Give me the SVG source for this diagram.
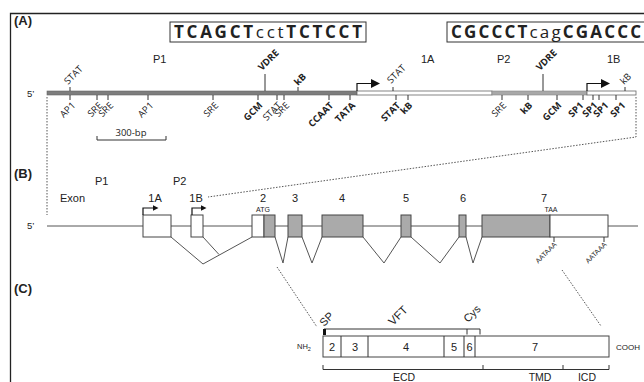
<svg xmlns="http://www.w3.org/2000/svg" width="644" height="382" viewBox="0 0 644 382">
<style>
text{fill:#222;font-family:"Liberation Sans",Arial,sans-serif}
.lb{font-family:"Open Sans","DejaVu Sans",sans-serif;font-size:9.5px}
.b{font-weight:bold}
.e{text-anchor:end}
.m{text-anchor:middle}
.ttl{font-size:13px;font-weight:bold}
.t11{font-size:11px}
.seq{font-family:"Open Sans","DejaVu Sans",sans-serif;font-size:17px}
.up{font-weight:bold}
.tk{stroke:#333;stroke-width:1;fill:none}
.ln{stroke:#555;stroke-width:1;fill:none}
.ex{stroke:#444;stroke-width:1;fill:#fff}
.exg{stroke:#444;stroke-width:1;fill:#aaa}
.dot{stroke:#555;stroke-width:1;stroke-dasharray:1.5 1.5;fill:none}
.arr{stroke:#111;stroke-width:1.2;fill:none}
</style>
<defs>
<marker id="ahA" markerUnits="userSpaceOnUse" markerWidth="10" markerHeight="9" refX="0" refY="4.5" orient="auto"><path d="M0,0 L9,4.5 L0,9 Z" fill="#111"/></marker>
<marker id="ahB" markerUnits="userSpaceOnUse" markerWidth="6" markerHeight="6" refX="0" refY="2.7" orient="auto"><path d="M0,0 L5.5,2.7 L0,5.4 Z" fill="#111"/></marker>
</defs>
<rect width="644" height="382" fill="#fff"/>
<g id="frame">
<path d="M10.5,382 V13.5 H644" stroke="#222" stroke-width="1.3" fill="none"/>
</g>

<g id="panelA">
<text class="ttl" x="14" y="25">(A)</text>
<g id="seq1">
<rect x="170" y="22" width="196" height="20" fill="none" stroke="#333" stroke-width="1"/>
<text class="seq" x="174" y="38" textLength="188" lengthAdjust="spacing"><tspan class="up">TCAGCT</tspan><tspan>cct</tspan><tspan class="up">TCTCCT</tspan></text>
</g>
<g id="seq2">
<rect x="447" y="22" width="212" height="20" fill="none" stroke="#333" stroke-width="1"/>
<text class="seq" x="451" y="38" textLength="190" lengthAdjust="spacing"><tspan class="up">CGCCCT</tspan><tspan>cag</tspan><tspan class="up">CGACCC</tspan></text>
</g>
<text class="t11" x="153" y="63">P1</text>
<text class="t11" x="421" y="63">1A</text>
<text class="t11" x="497" y="63">P2</text>
<text class="t11" x="607" y="63">1B</text>
<text x="27" y="97" font-size="9.5">5’</text>
<g id="promoter-line">
<rect x="47" y="91" width="310" height="4" fill="#7d7d7d" stroke="#666" stroke-width="0.6"/>
<rect x="357" y="91" width="135" height="4" fill="#fff" stroke="#666" stroke-width="0.8"/>
<rect x="492" y="91" width="95" height="4" fill="#a8a8a8" stroke="#888" stroke-width="0.6"/>
<rect x="587" y="91" width="49" height="4" fill="#fff" stroke="#666" stroke-width="0.8"/>
</g>
<g id="ticks-up">
<path class="tk" d="M70,87 V91 M265,74 V91 M298,87 V91 M393,87 V91 M543,74 V91 M625,87 V91"/>
<text class="lb" transform="translate(68,85) rotate(-45)">STAT</text>
<text class="lb b" transform="translate(262,71) rotate(-45)">VDRE</text>
<text class="lb b" transform="translate(298,86) rotate(-45)">kB</text>
<text class="lb" transform="translate(391,84) rotate(-45)">STAT</text>
<text class="lb b" transform="translate(540,71) rotate(-45)">VDRE</text>
<text class="lb" transform="translate(624,85) rotate(-45)">kB</text>
</g>
<g id="ticks-down">
<path class="tk" d="M70,95 V100 M97,95 V100 M108,95 V100 M148,95 V100 M213,95 V100 M258,95 V100 M277,95 V100 M284,95 V100 M329,95 V100 M350,95 V100 M396,95 V100 M408,95 V100 M502,95 V100 M528,95 V100 M557,95 V100 M583,95 V100 M593,95 V100 M599,95 V100 M616,95 V100"/>
<text class="lb e" transform="translate(76,106) rotate(-45)">AP1</text>
<text class="lb e" transform="translate(103,106) rotate(-45)">SRE</text>
<text class="lb e" transform="translate(114,106) rotate(-45)">SRE</text>
<text class="lb e" transform="translate(154,106) rotate(-45)">AP1</text>
<text class="lb e" transform="translate(219,106) rotate(-45)">SRE</text>
<text class="lb e b" transform="translate(263,106) rotate(-45)">GCM</text>
<text class="lb e" transform="translate(282,106) rotate(-45)">STAT</text>
<text class="lb e" transform="translate(290,106) rotate(-45)">SRE</text>
<text class="lb e b" transform="translate(334,106) rotate(-45)">CCAAT</text>
<text class="lb e b" transform="translate(356,106) rotate(-45)">TATA</text>
<text class="lb e b" transform="translate(401,106) rotate(-45)">STAT</text>
<text class="lb e b" transform="translate(413,106) rotate(-45)">kB</text>
<text class="lb e" transform="translate(507,106) rotate(-45)">SRE</text>
<text class="lb e b" transform="translate(533,106) rotate(-45)">kB</text>
<text class="lb e b" transform="translate(562,106) rotate(-45)">GCM</text>
<text class="lb e b" transform="translate(584,106) rotate(-45)">SP1</text>
<text class="lb e b" transform="translate(598,106) rotate(-45)">SP1</text>
<text class="lb e b" transform="translate(609,106) rotate(-45)">SP1</text>
<text class="lb e b" transform="translate(626,106) rotate(-45)">SP1</text>
</g>
<g id="tss-A">
<path class="arr" d="M357,91 V83.5 H371" marker-end="url(#ahA)"/>
<path class="arr" d="M587,91 V83.5 H601" marker-end="url(#ahA)"/>
</g>
<g id="scalebar">
<path class="tk" d="M97,136 V140 H166 V136"/>
<text class="lb m" x="131" y="136">300-bp</text>
</g>
</g>

<g id="connectors">
<path class="dot" d="M47,97 V215"/>
<path class="dot" d="M636,97 V137 L208,197"/>
<path class="dot" d="M277,267 L317,327"/>
<path class="dot" d="M562,270 L601,326"/>
</g>

<g id="panelB">
<text class="ttl" x="14" y="178">(B)</text>
<text class="t11" x="95" y="185">P1</text>
<text class="t11" x="173" y="185">P2</text>
<text class="t11" x="60" y="202">Exon</text>
<text class="t11 m" x="155" y="202">1A</text>
<text class="t11 m" x="196" y="202">1B</text>
<text class="t11 m" x="263" y="202">2</text>
<text x="263" y="212" font-size="7" class="m">ATG</text>
<text class="t11 m" x="295" y="202">3</text>
<text class="t11 m" x="342" y="202">4</text>
<text class="t11 m" x="406" y="202">5</text>
<text class="t11 m" x="463" y="202">6</text>
<text class="t11 m" x="544" y="202">7</text>
<text x="551" y="212" font-size="7" class="m">TAA</text>
<text x="27" y="229" font-size="9.5">5’</text>
<path class="ln" d="M47,226 H638"/>
<g id="exon1A"><rect class="ex" x="143" y="215" width="28" height="22"/></g>
<g id="exon1B"><rect class="ex" x="191" y="215" width="12" height="22"/></g>
<g id="exon2"><rect class="ex" x="252" y="215" width="12" height="22"/><rect class="exg" x="264" y="215" width="11" height="22"/></g>
<g id="exon3"><rect class="exg" x="288" y="215" width="14" height="22"/></g>
<g id="exon4"><rect class="exg" x="322" y="215" width="41" height="22"/></g>
<g id="exon5"><rect class="exg" x="401" y="215" width="10" height="22"/></g>
<g id="exon6"><rect class="exg" x="459" y="215" width="7" height="22"/></g>
<g id="exon7"><rect class="exg" x="482" y="215" width="68" height="22"/><rect class="ex" x="550" y="215" width="58" height="22"/></g>
<g id="tss-B">
<path class="arr" d="M143,215 V208 H153" marker-end="url(#ahB)"/>
<path class="arr" d="M192,215 V208 H201" marker-end="url(#ahB)"/>
</g>
<g id="splicing">
<path class="ln" d="M171,237 L203,264 L252,237 M203,237 L219,254.5"/>
<path class="ln" d="M275,237 L283,263 L288,237"/>
<path class="ln" d="M302,237 L312,263 L322,237"/>
<path class="ln" d="M363,237 L384,263 L401,237"/>
<path class="ln" d="M411,237 L440,263 L459,237"/>
<path class="ln" d="M466,237 L473,263 L482,237"/>
</g>
<g id="polyA">
<path class="tk" d="M554,237 V242 M604,237 V242"/>
<text class="e" font-size="7" transform="translate(557,245) rotate(-45)">AATAAA</text>
<text class="e" font-size="7" transform="translate(607,245) rotate(-45)">AATAAA</text>
</g>
</g>

<g id="panelC">
<text class="ttl" x="14" y="293">(C)</text>
<g id="domains-top">
<path class="tk" d="M324,329 H480 M467,329 V334.5 M480,329 V334.5"/>
<rect x="323" y="329" width="3" height="6" fill="#111"/>
<text font-size="11" transform="translate(324,327) rotate(-45)">SP</text>
<text font-size="11.5" transform="translate(393,326) rotate(-45)">VFT</text>
<text font-size="11" transform="translate(468,323) rotate(-45)">Cys</text>
</g>
<g id="protein">
<rect x="323" y="336" width="286" height="21" fill="#fff" stroke="#444" stroke-width="1"/>
<path class="tk" d="M341,336 V357 M368,336 V357 M444,336 V357 M464,336 V357 M475,336 V357"/>
<text class="t11 m" x="332" y="351">2</text>
<text class="t11 m" x="355" y="351">3</text>
<text class="t11 m" x="406" y="351">4</text>
<text class="t11 m" x="454" y="351">5</text>
<text class="t11 m" x="469.5" y="351">6</text>
<text class="t11 m" x="535" y="351">7</text>
<text x="297" y="349" font-size="7.5">NH<tspan font-size="5.5" dy="2">2</tspan></text>
<text x="616" y="350" font-size="8">COOH</text>
</g>
<g id="domains-bottom">
<path class="tk" d="M323,365 V369.5 H609 V365 M483,365 V369.5 M563,365 V369.5"/>
<text class="m" font-size="10.5" x="404" y="381">ECD</text>
<text class="m" font-size="10.5" x="540" y="381">TMD</text>
<text class="m" font-size="10.5" x="587" y="381">ICD</text>
</g>
</g>
</svg>
